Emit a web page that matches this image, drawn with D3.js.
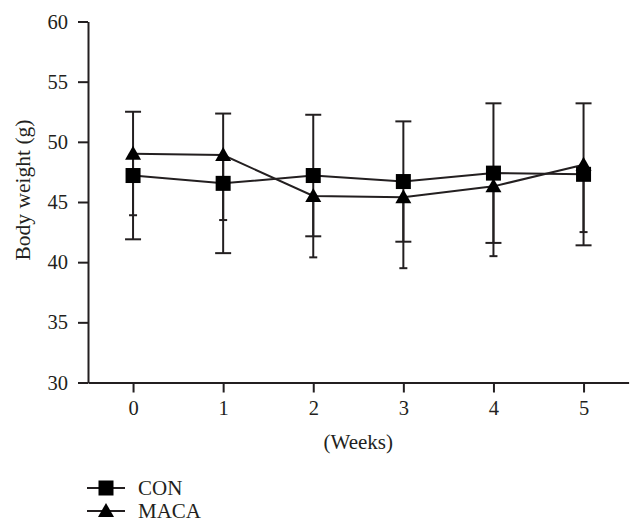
<!DOCTYPE html>
<html>
<head>
<meta charset="utf-8">
<script src="https://cdn.jsdelivr.net/npm/d3@7"></script>
<style>
  html, body { margin: 0; padding: 0; background: #fff; }
  svg { display: block; }
  text { font-family: "Liberation Serif", "DejaVu Serif", serif; fill: #231f20; }
</style>
</head>
<body>
<svg id="chart" width="643" height="532"></svg>
<script>
// ---- data ----
const weeks = [0, 1, 2, 3, 4, 5];
const conMean = [47.2, 46.55, 47.2, 46.7, 47.4, 47.3];
const conSD = [5.3, 5.8, 5.05, 5.0, 5.8, 5.9];
const macaMean = [49.0, 48.9, 45.5, 45.4, 46.3, 48.1];
const macaSD = [5.1, 5.4, 5.1, 5.9, 5.8, 5.6];
const yTicks = [30, 35, 40, 45, 50, 55, 60];
const seriesNames = ["CON", "MACA"];
const xTitle = "(Weeks)";
const yTitle = "Body weight (g)";

const ink = "#231f20";
const svg = d3.select("#chart");

const x = d3.scaleLinear().domain([-0.5, 5.5]).range([88, 628.6]);
const y = d3.scaleLinear().domain([30, 60]).range([382.5, 21.5]);

// axes
const gx = svg.append("g").attr("transform", `translate(0,${y(30)})`)
  .call(d3.axisBottom(x).tickValues(weeks).tickFormat(d3.format("d")).tickSize(10).tickSizeOuter(0).tickPadding(8));
const gy = svg.append("g").attr("transform", `translate(${x(-0.5)},0)`)
  .call(d3.axisLeft(y).tickValues(yTicks).tickSize(10).tickSizeOuter(0).tickPadding(10));
[gx, gy].forEach(g => {
  g.selectAll("path.domain").attr("stroke", ink).attr("stroke-width", 2);
  g.selectAll(".tick line").attr("stroke", ink).attr("stroke-width", 2);
  g.selectAll(".tick text").attr("font-size", 20.5).attr("font-family", "Liberation Serif").attr("fill", ink);
});

// titles
svg.append("text").attr("x", (x(0) + x(5)) / 2).attr("y", 449)
  .attr("text-anchor", "middle").attr("font-size", 21).text(xTitle);
svg.append("text").attr("transform", `translate(30,190) rotate(-90)`)
  .attr("text-anchor", "middle").attr("font-size", 21.5).text(yTitle);

// lines
const line = d3.line().x((d, i) => x(weeks[i])).y(d => y(d));
svg.append("path").datum(conMean).attr("d", line).attr("fill", "none").attr("stroke", ink).attr("stroke-width", 2);
svg.append("path").datum(macaMean).attr("d", line).attr("fill", "none").attr("stroke", ink).attr("stroke-width", 2);

// error bars: CON symmetric with wide caps; MACA downward with narrow caps
const eb = svg.append("g").attr("stroke", ink).attr("stroke-width", 2);
weeks.forEach((w, i) => {
  const cx = x(w);
  const hi = y(conMean[i] + conSD[i]), lo = y(conMean[i] - conSD[i]);
  eb.append("line").attr("x1", cx).attr("x2", cx).attr("y1", hi).attr("y2", lo);
  eb.append("line").attr("x1", cx - 8).attr("x2", cx + 8).attr("y1", hi).attr("y2", hi);
  eb.append("line").attr("x1", cx - 8).attr("x2", cx + 8).attr("y1", lo).attr("y2", lo);
  const m = y(macaMean[i]), ml = y(macaMean[i] - macaSD[i]);
  eb.append("line").attr("x1", cx).attr("x2", cx).attr("y1", m).attr("y2", ml);
  eb.append("line").attr("x1", cx - 4).attr("x2", cx + 4).attr("y1", ml).attr("y2", ml);
});

// markers
const tri = (cx, cy) => `M${cx},${cy - 8}L${cx + 8},${cy + 6}L${cx - 8},${cy + 6}Z`;
weeks.forEach((w, i) => {
  svg.append("rect").attr("x", x(w) - 7.5).attr("y", y(conMean[i]) - 7.5)
    .attr("width", 15).attr("height", 15).attr("fill", "#000");
  svg.append("path").attr("d", tri(x(w), y(macaMean[i]))).attr("fill", "#000");
});

// legend
const legY = [488, 511];
seriesNames.forEach((name, k) => {
  const ly = legY[k];
  svg.append("line").attr("x1", 87).attr("x2", 125).attr("y1", ly).attr("y2", ly)
    .attr("stroke", ink).attr("stroke-width", 2);
  if (k === 0) svg.append("rect").attr("x", 106 - 7.5).attr("y", ly - 7.5).attr("width", 15).attr("height", 15).attr("fill", "#000");
  else svg.append("path").attr("d", tri(106, ly)).attr("fill", "#000");
  svg.append("text").attr("x", 138).attr("y", ly + 7).attr("font-size", 21).text(name);
});
</script>
</body>
</html>
